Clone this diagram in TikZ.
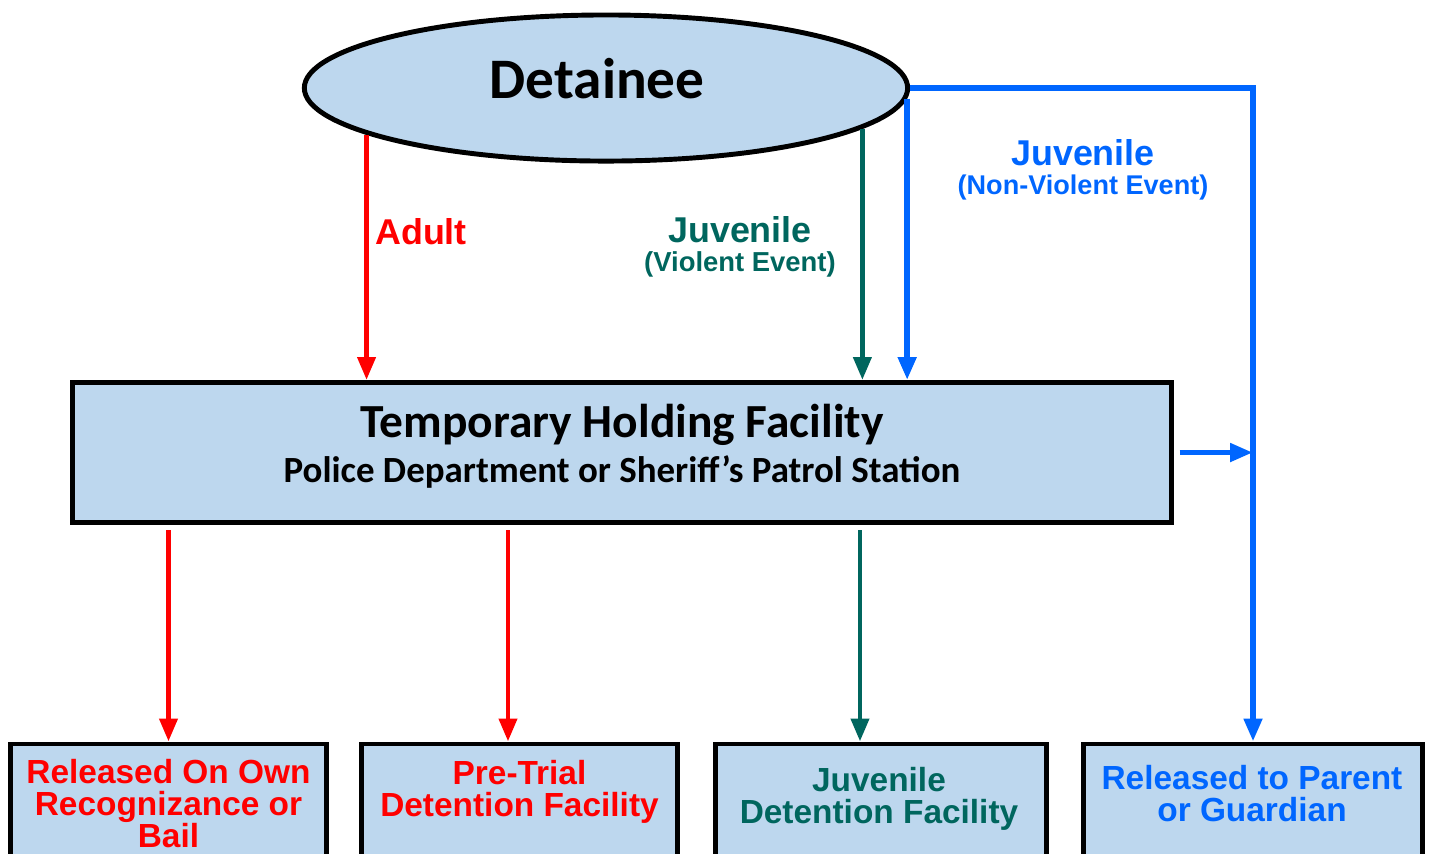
\documentclass[tikz,border=0pt]{standalone}
\usepackage{fontspec}
\setmainfont{Carlito}
\newfontfamily\arialfont{Liberation Sans}
\usetikzlibrary{shapes,arrows.meta,calc}
\definecolor{boxblue}{RGB}{189,215,238}
\definecolor{adultred}{RGB}{255,0,0}
\definecolor{violentgreen}{RGB}{0,102,94}
\definecolor{calmblue}{RGB}{0,102,255}

\begin{document}
\begin{tikzpicture}[x=0.01cm, y=-0.01cm, >={Triangle[length=6.5pt,width=5pt]},
  blue box/.style={draw=black, line width=1.4pt, fill=boxblue, inner sep=0pt},
  flow/.style={line width=1.4pt, ->},
  lab/.style={font=\arialfont\bfseries\fontsize{10.2}{8.2}\selectfont, align=center},
  outtext/.style={font=\arialfont\bfseries\fontsize{9.5}{9.1}\selectfont, align=center}]

\clip (0,0) rectangle (1433,853);

\node [blue box, ellipse, minimum width=6.03cm, minimum height=1.46cm,
  font=\bfseries\fontsize{16.3}{18}\selectfont] at (606, 88) (DET) {Detainee\hspace*{5pt}\rule[-5.5pt]{0pt}{0pt}};

\node [blue box, align=center, minimum width=10.99cm, minimum height=1.40cm] at (622, 452.5) (THF)
  {\bfseries\fontsize{13.5}{14}\selectfont Temporary Holding Facility\\[0.8pt]
   \bfseries\fontsize{10.5}{12}\selectfont Police Department or Sheriff's Patrol Station\rule[-5.5pt]{0pt}{0pt}};

% outcome boxes, bottoms run off the page
\node [blue box, minimum width=3.16cm, minimum height=1.40cm] at (168.5, 814) (ROR) {};
\node [blue box, minimum width=3.16cm, minimum height=1.40cm] at (519.5, 814) (PTD) {};
\node [blue box, minimum width=3.31cm, minimum height=1.40cm] at (881, 814) (JDF) {};
\node [blue box, minimum width=3.39cm, minimum height=1.40cm] at (1253, 814) (RPG) {};

\node [outtext, adultred] at (168.5, 804) (RORT) {Released On Own\\Recognizance or\\Bail};
\node [outtext, adultred] at (519.5, 792) (PTDT) {Pre-Trial\\Detention Facility};
\node [outtext, violentgreen] at (879, 799) (JDFT) {Juvenile\\Detention Facility};
\node [outtext, calmblue] at (1252, 794) (RPGT) {Released to Parent\\or Guardian};

% labels
\node [lab, adultred] at (421, 232) (ADULT) {Adult};
\node [lab, violentgreen] at (740, 247) (JV) {Juvenile\\{\fontsize{7.8}{8}\selectfont (Violent Event)}};
\node [lab, calmblue] at (1083, 170) (JNV) {Juvenile\\{\fontsize{7.7}{8}\selectfont (Non-Violent Event)}};

% adult path
\draw [flow, adultred] (DET.191.5) -- (DET.191.5 |- THF.north);
\draw [flow, adultred, shorten <=1.5pt] (THF.south -| ROR.north) -- (ROR.north);
\draw [flow, adultred, shorten <=1.5pt] ([xshift=-0.115cm]PTD.north |- THF.south) -- ([xshift=-0.115cm]PTD.north);

% juvenile, violent
\draw [flow, violentgreen] (DET.351) -- (DET.351 |- THF.north);
\draw [flow, violentgreen, shorten <=1.5pt] ([xshift=-0.21cm]JDF.north |- THF.south) -- ([xshift=-0.21cm]JDF.north);

% juvenile, non-violent
\draw [flow, calmblue, line width=1.6pt] (DET.east) -| (RPG.north);
\draw [flow, calmblue, line width=1.6pt] (DET.358) -- (DET.358 |- THF.north);
\draw [flow, calmblue, line width=1.6pt, shorten <=1.5pt] (THF.east) -- (THF.east -| RPG.north);

\end{tikzpicture}
\end{document}
